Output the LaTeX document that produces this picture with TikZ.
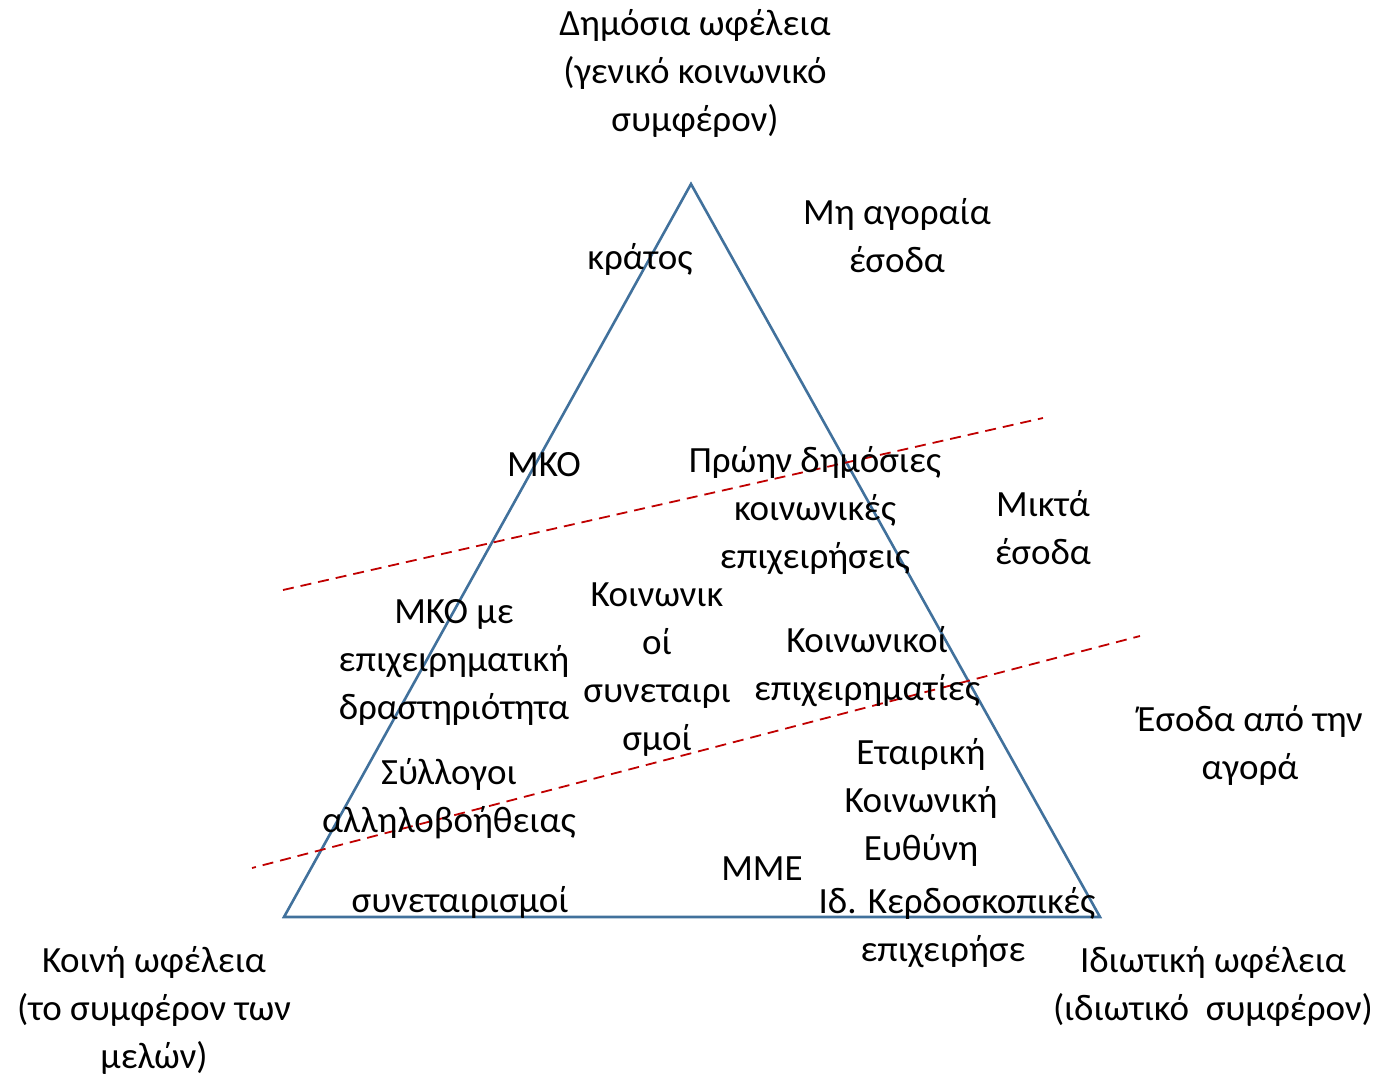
\documentclass[tikz,border=0pt]{standalone}
\usepackage{fontspec}
\setmainfont{Carlito}
\begin{document}
\begin{tikzpicture}[x=1pt,y=-1pt,
  lbl/.style={inner sep=0pt,align=center,font=\fontsize{37}{48}\selectfont},
  tri/.style={draw={rgb,255:red,65;green,113;blue,156},line width=2.6pt,line join=miter},
  sep/.style={draw={rgb,255:red,192;green,0;blue,0},line width=1.8pt,dash pattern=on 11pt off 7pt}]
\useasboundingbox (0,0) rectangle (1382,1076);
\coordinate (A) at (691,184);
\coordinate (B) at (284,917);
\coordinate (C) at (1100,917);
\draw[tri] (A) -- (B) -- (C) -- cycle;
\coordinate (d1a) at (283,590);
\coordinate (d1b) at (1043,418);
\coordinate (d2a) at (252,868);
\coordinate (d2b) at (1140,636);
\draw[sep] (d1a) -- (d1b);
\draw[sep,dash phase=7pt] (d2a) -- (d2b);
\node[lbl] (pub) at (695,73) {Δημόσια ωφέλεια\\(γενικό κοινωνικό\\συμφέρον)};
\node[lbl] (nonmkt) at (897,236) {Μη αγοραία\\έσοδα};
\node[lbl] (state) at (640,259) {κράτος};
\node[lbl] (mko) at (544,465) {ΜΚΟ};
\node[lbl] (former) at (815,511) {Πρώην δημόσιες\\κοινωνικές\\επιχειρήσεις};
\node[lbl] (mixed) at (1043,528) {Μικτά\\έσοδα};
\node[lbl] (mkobiz) at (454,662) {ΜΚΟ με\\επιχειρηματική\\δραστηριότητα};
\node[lbl] (coop) at (657,670) {Κοινωνικ\\οί\\συνεταιρι\\σμοί};
\node[lbl] (entre) at (867,667) {Κοινωνικοί\\επιχειρηματίες};
\node[lbl] (market) at (1250,745) {Έσοδα από την\\αγορά};
\node[lbl] (mutual) at (449,799) {Σύλλογοι\\αλληλοβοήθειας};
\node[lbl] (csr) at (921,802) {Εταιρική\\Κοινωνική\\Ευθύνη};
\node[lbl] (sme) at (762,869) {ΜΜΕ};
\node[lbl] (coops) at (460,902) {συνεταιρισμοί};
\node[lbl] (profit) at (950,928) {\hspace*{14pt}Ιδ. Κερδοσκοπικές\\επιχειρήσε\hspace*{14pt}};
\node[lbl] (priv) at (1213,986) {Ιδιωτική ωφέλεια\\(ιδιωτικό\ \ συμφέρον)};
\node[lbl] (common) at (154,1010) {Κοινή ωφέλεια\\(το συμφέρον των\\μελών)};
\end{tikzpicture}
\end{document}
